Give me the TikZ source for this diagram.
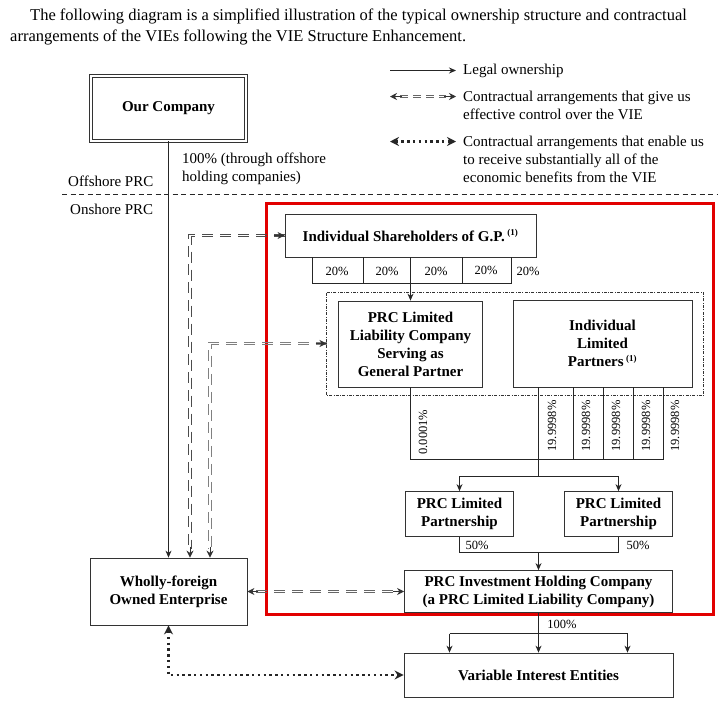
\documentclass[tikz,border=0pt]{standalone}
\usepackage{fontspec}
\setmainfont{Liberation Serif}
\usetikzlibrary{arrows.meta}
\begin{document}
\begin{tikzpicture}[x=1pt,y=-1pt,
  box/.style={draw=black!80, line width=0.8pt, fill=white, align=center, inner sep=0pt, font=\bfseries\fontsize{15}{18}\selectfont},
  txt/.style={font=\fontsize{15}{18}\selectfont, align=left, inner sep=0pt},
  ttl/.style={font=\fontsize{16.5}{21}\selectfont, inner sep=0pt},
  pct/.style={font=\fontsize{12.5}{14}\selectfont, inner sep=0pt},
  own/.style={draw=black!85, line width=0.9pt, -{Stealth[length=7pt,width=6pt]}},
  plainline/.style={draw=black!85, line width=0.8pt},
  ctrl/.style={draw=black!60, line width=1.1pt, dash pattern=on 11pt off 7pt, shorten <=9pt, shorten >=9pt},
  ctrlb/.style={draw=black!60, line width=1.1pt, dash pattern=on 11pt off 7pt, shorten >=9pt},
  ctip/.style={draw=black!80, line width=0.9pt, -{Stealth[length=7pt,width=7pt]}},
  econ/.style={draw=black!85, line width=2.4pt, dash pattern=on 2.4pt off 3.4pt, {Stealth[length=9pt,width=9pt]}-{Stealth[length=9pt,width=9pt]}},
]
\useasboundingbox (0,0) rectangle (725,705);
\fill[white] (0,0) rectangle (725,705);

% title
\node[ttl, anchor=west] (t1) at (30,16) {The following diagram is a simplified illustration of the typical ownership structure and contractual};
\node[ttl, anchor=west] (t2) at (10,37) {arrangements of the VIEs following the VIE Structure Enhancement.};

% legend
\coordinate (l1s) at (390,70.5); \coordinate (l1e) at (456,70.5);
\coordinate (l2s) at (390,96.5); \coordinate (l2e) at (456,96.5);
\coordinate (l3s) at (390,141.5); \coordinate (l3e) at (456,141.5);
\draw[own] (l1s) -- (l1e);
\draw[ctrl, dash pattern=on 8pt off 5pt, shorten <=10pt, shorten >=10pt] ([yshift=1.4pt]l2s) -- ([yshift=1.4pt]l2e);
\draw[ctrl, dash pattern=on 8pt off 5pt, shorten <=10pt, shorten >=10pt] ([yshift=-1.4pt]l2s) -- ([yshift=-1.4pt]l2e);
\draw[ctip] ([xshift=12pt]l2s) -- (l2s);
\draw[ctip] ([xshift=-12pt]l2e) -- (l2e);
\draw[econ] (l3s) -- (l3e);
\node[txt, anchor=west] (g1) at (463,71) {Legal ownership};
\node[txt, anchor=north west] (g2) at (463,91) {Contractual arrangements that give us\\effective control over the VIE};
\node[txt, anchor=north west] (g3) at (463,136) {Contractual arrangements that enable us\\to receive substantially all of the\\economic benefits from the VIE};

% divider
\coordinate (dl) at (62,194.5); \coordinate (dr) at (718,194.5);
\draw[black!85, line width=0.8pt, dash pattern=on 5pt off 3.5pt] (dl) -- (dr);
\node[txt, anchor=west] (off) at (68,181) {Offshore PRC};
\node[txt, anchor=west] (on) at (70,209) {Onshore PRC};

% red frame
\draw[draw={rgb,255:red,226;green,0;blue,0}, line width=3pt] (266,203) rectangle (713,614);

% boxes
\node[box, double, double distance=1.6pt, line width=0.9pt, minimum width=155pt, minimum height=65pt] (our) at (168.5,108.5) {Our Company};
\node[box, minimum width=157pt, minimum height=67pt] (wfoe) at (168.5,591.5) {Wholly-foreign\\Owned Enterprise};
\node[box, minimum width=251pt, minimum height=43pt] (ish) at (410.5,235.5) {Individual Shareholders of G.P.\,\textsuperscript{\fontsize{9}{10}\selectfont(1)}};
\draw[black!80, line width=0.6pt, dash pattern=on 3pt off 1.5pt on 0.6pt off 1.5pt] (326.5,292.5) rectangle (703.5,395.5);
\coordinate (grpw) at (326.5,343.5);
\node[box, minimum width=144pt, minimum height=86pt] (gp) at (410.5,344) {PRC Limited\\Liability Company\\Serving as\\General Partner};
\node[box, minimum width=179pt, minimum height=87pt] (ilp) at (602.5,343.5) {Individual\\Limited\\Partners\,\textsuperscript{\fontsize{9}{10}\selectfont(1)}};
\node[box, minimum width=108pt, minimum height=45pt] (lp1) at (459.5,514) {PRC Limited\\Partnership};
\node[box, minimum width=108pt, minimum height=45pt] (lp2) at (618.5,514) {PRC Limited\\Partnership};
\node[box, minimum width=268pt, minimum height=42pt] (pih) at (538.5,591.5) {PRC Investment Holding Company\\(a PRC Limited Liability Company)};
\node[box, minimum width=269pt, minimum height=44pt] (vie) at (538.5,675) {Variable Interest Entities};

% ownership: our company -> WFOE
\draw[own] (our.south) -- (wfoe.north);
\node[txt, anchor=north west] (hund) at (182,153) {100\% (through offshore\\holding companies)};

% shareholders table
\draw[plainline] (312.5,257) -- (312.5,283.5) -- (511.5,283.5) -- (511.5,257);
\draw[plainline] (363.5,257) -- (363.5,283.5);
\draw[plainline] (462.5,257) -- (462.5,283.5);
\draw[own] (ish.south) -- (gp.north);
\node[pct] at (337,271) {20\%};
\node[pct] at (387,271) {20\%};
\node[pct] at (436,271) {20\%};
\node[pct] at (486,270) {20\%};
\node[pct] at (528,271) {20\%};

% partnership shares
\coordinate (j1) at (410.5,459.5);
\coordinate (j2) at (538.5,459.5);
\draw[plainline] (gp.south) -- (j1) -- (663.5,459.5);
\foreach \xx in {538.5,573.5,603.5,633.5,663.5} \draw[plainline] (\xx,387) -- (\xx,459.5);
\node[pct, rotate=90] at (423,432) {0.0001\%};
\foreach \xx in {552,586,616,646,675} \node[pct, rotate=90] at (\xx,426) {19.9998\%};
\coordinate (j3) at (538.5,476.5);
\draw[plainline] (j2) -- (j3);
\draw[own] (j3) -| (lp1.north);
\draw[own] (j3) -| (lp2.north);

% LPs -> PIH
\coordinate (j4) at (538.5,552.5);
\draw[plainline] (lp1.south) |- (j4) -| (lp2.south);
\draw[own] (j4) -- (pih.north);
\node[pct] at (477,545) {50\%};
\node[pct] at (638,545) {50\%};

% PIH -> VIE
\coordinate (j5) at (538.5,633.5);
\coordinate (j6) at (449.5,633.5);
\coordinate (j7) at (627.5,633.5);
\draw[plainline] (pih.south) -- (j5);
\draw[plainline] (j6) -- (j7);
\draw[own] (j5) -- (vie.north);
\draw[own] (j6) -- (j6 |- vie.north);
\draw[own] (j7) -- (j7 |- vie.north);
\node[pct] at (562,624) {100\%};

% contractual control (drawn as twin dashed lines)
\coordinate (v1) at ([xshift=21.5pt]wfoe.north);
\coordinate (v2) at ([xshift=41.5pt]wfoe.north);
\draw[ctrlb, draw=black!70] ([yshift=1.4pt]ish.west) -| ([xshift=-1.4pt]v1);
\draw[ctrlb, draw=black!70] ([yshift=-1.4pt]ish.west) -| ([xshift=1.4pt]v1);
\draw[ctip] ([xshift=-11pt]ish.west) -- (ish.west);
\draw[ctip] ([yshift=11pt]v1) -- (v1);
\draw[ctrlb, draw=black!50] ([yshift=1.4pt]grpw) -| ([xshift=-1.4pt]v2);
\draw[ctrlb, draw=black!50] ([yshift=-1.4pt]grpw) -| ([xshift=1.4pt]v2);
\draw[ctip] ([xshift=-11pt]grpw) -- (grpw);
\draw[ctip] ([yshift=11pt]v2) -- (v2);
\draw[ctrl] ([yshift=1.4pt]wfoe.east) -- ([yshift=1.4pt]pih.west);
\draw[ctrl] ([yshift=-1.4pt]wfoe.east) -- ([yshift=-1.4pt]pih.west);
\draw[ctip] ([xshift=11pt]wfoe.east) -- (wfoe.east);
\draw[ctip] ([xshift=-11pt]pih.west) -- (pih.west);

% economic benefits
\draw[econ] (wfoe.south) |- (vie.west);
\end{tikzpicture}
\end{document}
